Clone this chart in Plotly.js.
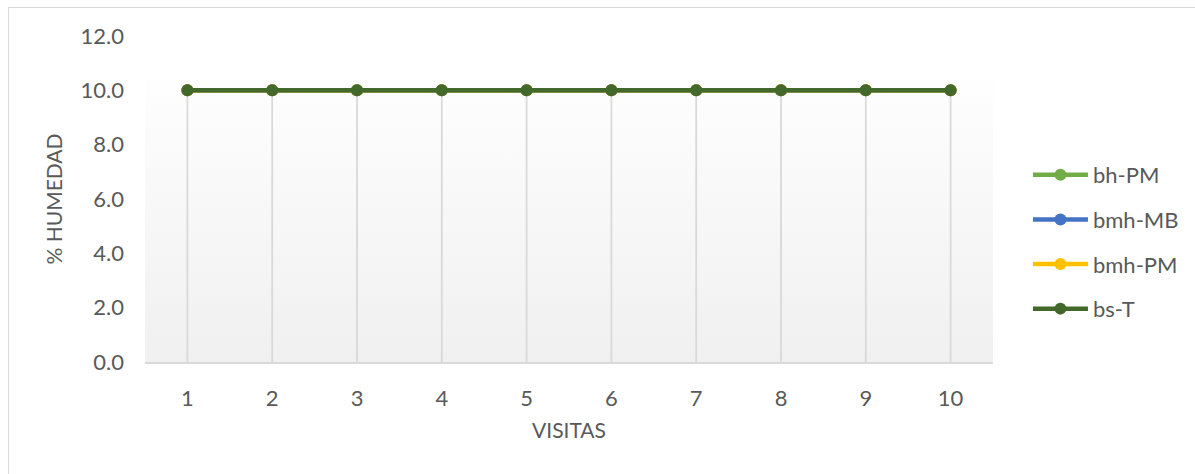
<!DOCTYPE html>
<html>
<head>
<meta charset="utf-8">
<script src="https://cdn.plot.ly/plotly-3.0.1.min.js"></script>
<style>
  html, body { margin: 0; padding: 0; background: #ffffff; }
  #frame { position: relative; width: 1195px; height: 474px; overflow: hidden; }
  #frame::before {
    content: ""; position: absolute; left: 8px; top: 7px; right: -4px; bottom: -4px;
    border-top: 1.5px solid #d9d9d9; border-left: 1.5px solid #d9d9d9;
    pointer-events: none; z-index: 5;
  }
  #chart { width: 1195px; height: 474px; }
</style>
</head>
<body>
<div id="frame"><div id="chart"></div></div>
<script>
// Humidity per visit for each plot type
const visitas = [1, 2, 3, 4, 5, 6, 7, 8, 9, 10];
const bhPM   = [10, 10, 10, 10, 10, 10, 10, 10, 10, 10];
const bmhMB  = [10, 10, 10, 10, 10, 10, 10, 10, 10, 10];
const bmhPM  = [10, 10, 10, 10, 10, 10, 10, 10, 10, 10];
const bsT    = [10, 10, 10, 10, 10, 10, 10, 10, 10, 10];
const seriesNames = ['bh-PM', 'bmh-MB', 'bmh-PM', 'bs-T'];
const seriesColors = ['#70ad47', '#4472c4', '#ffc000', '#43682b'];
const yTicks = [0, 2, 4, 6, 8, 10, 12];

const txt = '#595959';
const fontFamily = 'Lato, "Open Sans", sans-serif';

const allSeries = [bhPM, bmhMB, bmhPM, bsT];
const traces = allSeries.map((vals, i) => {
  const t = {
    type: 'scatter',
    mode: 'lines+markers',
    name: seriesNames[i],
    legendgroup: seriesNames[i],
    x: visitas,
    y: vals,
    line: { color: seriesColors[i], width: 4.5 },
    marker: { color: seriesColors[i], size: 12 },
    hoverinfo: 'x+y+name'
  };
  if (i === 0) {
    // drop lines from each point down to the category axis
    t.error_y = {
      type: 'data', symmetric: false,
      array: vals.map(() => 0), arrayminus: vals,
      width: 0, thickness: 1.8, color: '#d9d9d9'
    };
  }
  return t;
});

// soft vertical gradient behind the series
const gradSvg = "<svg xmlns='http://www.w3.org/2000/svg' width='10' height='100' preserveAspectRatio='none'>" +
  "<defs><linearGradient id='g' x1='0' y1='0' x2='0' y2='1'>" +
  "<stop offset='0' stop-color='#fefefe'/><stop offset='1' stop-color='#f0f0f0'/>" +
  "</linearGradient></defs><rect width='10' height='100' fill='url(#g)'/></svg>";
const panelTop = 10.4;

const layout = {
  width: 1195, height: 474,
  margin: { l: 145, r: 201, t: 36, b: 112, pad: 0 },
  paper_bgcolor: '#ffffff',
  plot_bgcolor: '#ffffff',
  font: { family: fontFamily, size: 21, color: txt },
  showlegend: true,
  legend: {
    x: 1.04, xanchor: 'left', y: 0.368, yanchor: 'middle',
    font: { family: fontFamily, size: 22, color: txt },
    tracegroupgap: 13,
    itemwidth: 55,
    bgcolor: 'rgba(0,0,0,0)'
  },
  xaxis: {
    range: [0.5, 10.5],
    tickmode: 'array', tickvals: visitas, ticktext: visitas.map(String),
    showgrid: false, zeroline: false,
    showline: true, linecolor: '#d9d9d9', linewidth: 1.5,
    ticks: '', ticklabelstandoff: 16,
    tickfont: { family: fontFamily, size: 22, color: txt },
    title: { text: 'VISITAS', font: { family: fontFamily, size: 21, color: txt }, standoff: 13 },
    fixedrange: true
  },
  yaxis: {
    range: [0, 12],
    tickmode: 'array', tickvals: yTicks, ticktext: yTicks.map(v => v.toFixed(1)),
    showgrid: false, zeroline: false, showline: false,
    ticks: '', ticklabelstandoff: 20,
    tickfont: { family: fontFamily, size: 22, color: txt },
    title: { text: '% HUMEDAD', font: { family: fontFamily, size: 21, color: txt }, standoff: 12 },
    fixedrange: true
  },
  images: [{
    source: 'data:image/svg+xml;charset=utf-8,' + encodeURIComponent(gradSvg),
    xref: 'x domain', yref: 'y',
    x: 0, y: panelTop, sizex: 1, sizey: panelTop,
    xanchor: 'left', yanchor: 'top',
    sizing: 'stretch', layer: 'below'
  }]
};

Plotly.newPlot('chart', traces, layout, { displayModeBar: false, staticPlot: true });
</script>
</body>
</html>
